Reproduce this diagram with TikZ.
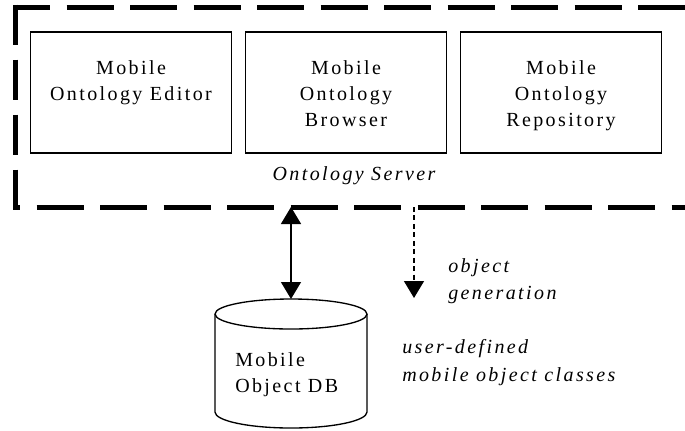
\documentclass[tikz,border=0pt]{standalone}
\usepackage{fontspec}
\setmainfont{Liberation Serif}[LetterSpace=12]
\usetikzlibrary{arrows.meta}
\begin{document}
\begin{tikzpicture}[x=0.75pt,y=-0.75pt,
  box/.style={draw=black,line width=1pt,inner sep=0pt,outer sep=0pt,minimum width=150.75pt,minimum height=90.75pt},
  boxtext/.style={inner sep=0pt,align=center,font=\fontsize{15}{19.5}\selectfont},
  itlabel/.style={inner sep=0pt,align=left,font=\fontsize{15}{20.5}\selectfont\itshape},
  hdash/.style={line width=3.75pt,dash pattern=on 35.25pt off 12.375pt},
  vdash/.style={line width=3.75pt,dash pattern=on 30pt off 11.25pt},
  conn/.style={line width=1pt,-{Triangle[width=15pt,length=12.75pt]}},
  dconn/.style={line width=1pt,{Triangle[width=15pt,length=12.75pt]}-{Triangle[width=15pt,length=12.75pt]}},
  dbline/.style={draw=black,line width=1pt}
]
\useasboundingbox (0,0) rectangle (685,430);
\clip (0,0) rectangle (685,430);
% frame corners
\coordinate (fnw) at (15.5,7);
\coordinate (fsw) at (15.5,207);
\coordinate (fne) at (700,7);
\coordinate (fse) at (700,207);
\coordinate (ftl) at (13,7);
\coordinate (fbl) at (13,207);
\coordinate (flt) at (15.5,4.5);
\coordinate (flb) at (15.5,209.5);
\draw[hdash,dash phase=7.5pt] (ftl) -- (fne);
\draw[vdash] (flt) -- (flb);
\draw[hdash,dash phase=30pt] (fbl) -- (fse);
% boxes
\node[box] (b1) at (131,92.5) {};
\node[box] (b2) at (346,92.5) {};
\node[box] (b3) at (561,92.5) {};
\node[boxtext,anchor=north] (t1) at (131,60.5) {Mobile\\Ontology Editor};
\node[boxtext,anchor=north] (t2) at (346,60.5) {Mobile\\Ontology\\Browser};
\node[boxtext,anchor=north] (t3) at (561,60.5) {Mobile\\Ontology\\Repository};
\node[itlabel,anchor=base] (srv) at (354,180) {Ontology Server};
% database cylinder
\coordinate (dbtop) at (291,299);
\coordinate (dbc) at (291,314);
\coordinate (dbl) at (215,314);
\coordinate (dbr) at (367,314);
\coordinate (dbbl) at (215,412);
\coordinate (dbbr) at (367,412);
\draw[dbline] (dbc) ellipse [x radius=76, y radius=15];
\draw[dbline] (dbr) -- (dbbr) arc [start angle=0, end angle=180, x radius=76, y radius=16] -- (dbl);
\node[boxtext,align=left,anchor=north west] (dbt) at (235,352.5) {Mobile\\Object DB};
% connectors
\draw[dconn] (fsw -| dbtop) -- (dbtop);
\coordinate (gen) at (414,298);
\draw[conn,dash pattern=on 3.75pt off 2.6pt] (fsw -| gen) -- (gen);
\node[itlabel,anchor=north west] (og) at (448,258.5) {object\\generation};
\node[itlabel,anchor=north west] (ud) at (402,339.5) {user-defined\\mobile object classes};
\end{tikzpicture}
\end{document}
